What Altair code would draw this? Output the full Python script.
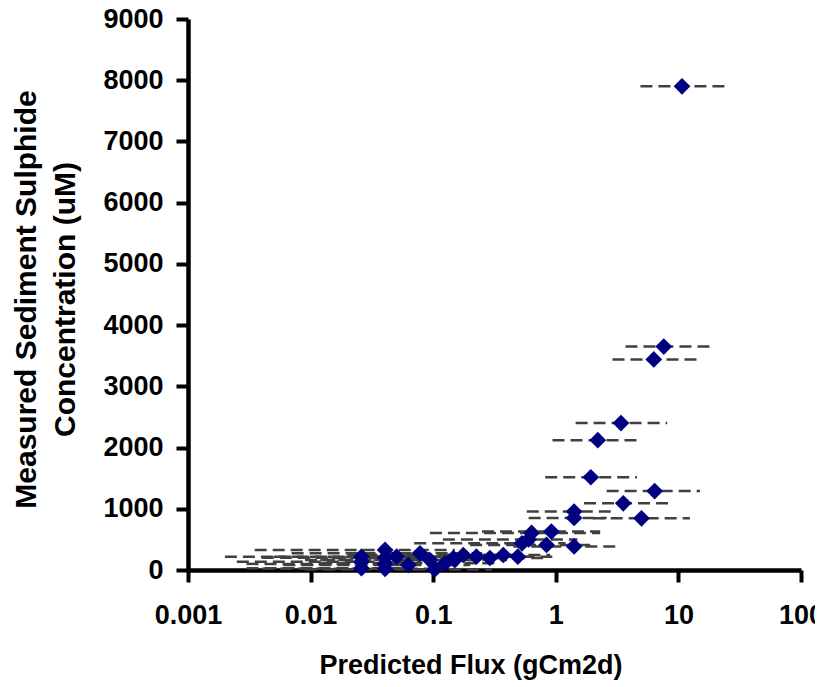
import altair as alt
import pandas as pd

# Predicted flux (x), measured sulphide (y), horizontal error bar bounds
flux = [10.7, 7.6, 6.3, 3.4, 2.2, 1.93, 6.4, 3.55, 5.0, 1.41, 1.41, 1.41,
        0.92, 0.84, 0.635, 0.6, 0.53, 0.49, 0.373, 0.29, 0.225, 0.176, 0.146,
        0.15, 0.125, 0.103, 0.094, 0.078, 0.0627, 0.0503, 0.0405, 0.0405,
        0.0405, 0.0405, 0.026, 0.026, 0.026]
sulphide = [7900, 3650, 3440, 2400, 2120, 1515, 1290, 1090, 845, 955, 850, 385,
            627, 410, 605, 500, 436, 217, 245, 196, 217, 245, 196,
            163, 109, 10, 163, 272, 82, 217, 327, 200,
            100, 20, 217, 136, 30]
flux_low = [4.9, 3.7, 2.9, 1.45, 0.94, 0.82, 2.6, 1.7, 2.0, 0.58, 0.6, 0.45,
            0.25, 0.2, 0.094, 0.12, 0.07, 0.05, 0.04, 0.03, 0.025, 0.02, 0.015,
            0.012, 0.012, 0.009, 0.009, 0.007, 0.006, 0.005, 0.0035, 0.004,
            0.003, 0.004, 0.002, 0.0025, 0.003]
flux_high = [25, 18, 15, 8.1, 5.1, 4.6, 15, 8.4, 12.4, 3.1, 2.6, 3.3,
             2.3, 2.0, 2.3, 1.5, 1.2, 1.0, 0.9, 0.8, 0.6, 0.5, 0.45,
             0.4, 0.35, 0.3, 0.3, 0.25, 0.2, 0.18, 0.15, 0.14,
             0.12, 0.1, 0.09, 0.08, 0.07]

x_ticks = [0.001, 0.01, 0.1, 1, 10, 100]
y_ticks = [0, 1000, 2000, 3000, 4000, 5000, 6000, 7000, 8000, 9000]

df = pd.DataFrame({"flux": flux, "sulphide": sulphide,
                   "lo": flux_low, "hi": flux_high})

FONT = "Liberation Sans"

xscale = alt.Scale(type="log", domain=[0.001, 100], nice=False)
yscale = alt.Scale(domain=[0, 9000], nice=False)

xaxis = alt.Axis(values=x_ticks, format="~g", title="Predicted Flux (gCm2d)",
                 titleAlign="left", titleX=131, titleY=103, titleFontSize=27,
                 titleBaseline="alphabetic", labelPadding=20)
yaxis = alt.Axis(values=y_ticks, format="d",
                 title=["Measured Sediment Sulphide", "Concentration (uM)"],
                 titleAngle=270, titleAlign="center", titleBaseline="top",
                 titleX=-177, titleY=280, titleLineHeight=39,
                 titleFontSize=30, labelPadding=13)

bars = alt.Chart(df).mark_rule(
    color="#404040", strokeWidth=2.5, strokeDash=[12, 6]
).encode(
    x=alt.X("lo:Q", scale=xscale, axis=xaxis),
    x2="hi:Q",
    y=alt.Y("sulphide:Q", scale=yscale, axis=yaxis),
)

points = alt.Chart(df).mark_point(
    shape="diamond", filled=True, color="#000080", size=280, opacity=1
).encode(
    x=alt.X("flux:Q", scale=xscale),
    y=alt.Y("sulphide:Q", scale=yscale),
)

chart = alt.layer(bars, points).properties(
    width=613, height=551,
    padding={"left": 180, "top": 11, "right": 14, "bottom": 112},
    autosize="none",
).configure_view(
    strokeWidth=0
).configure_axis(
    grid=False,
    domainColor="black", domainWidth=4.5,
    tickColor="black", tickWidth=4, tickSize=12,
    labelFont=FONT, labelFontSize=27, labelFontWeight="bold", labelColor="black",
    titleFont=FONT, titleFontSize=28, titleFontWeight="bold", titleColor="black",
    labelFlush=False, labelOverlap=False,
)

chart.save("out.html", embed_options={"renderer": "svg", "actions": False})
